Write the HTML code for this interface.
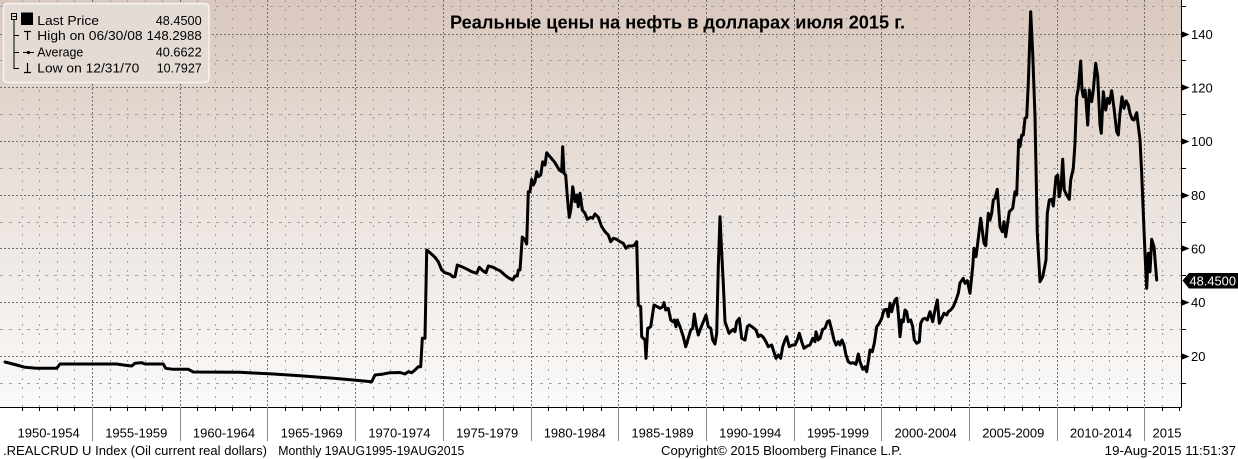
<!DOCTYPE html>
<html>
<head>
<meta charset="utf-8">
<style>
html,body{margin:0;padding:0;background:#fff;}
body{width:1238px;height:459px;overflow:hidden;}
svg{display:block;font-family:"Liberation Sans","DejaVu Sans",sans-serif;}
</style>
</head>
<body>
<svg width="1238" height="459" viewBox="0 0 1238 459" xmlns="http://www.w3.org/2000/svg">
<defs>
<linearGradient id="bg" x1="0" y1="0" x2="0" y2="1">
<stop offset="0" stop-color="#d9c8bd"/>
<stop offset="0.5" stop-color="#ebe3de"/>
<stop offset="1" stop-color="#fbfaf9"/>
</linearGradient>
</defs>
<rect x="0" y="0" width="1238" height="459" fill="#fff"/>
<rect x="0" y="0" width="1181" height="407" fill="url(#bg)"/>

<!-- minor vertical grid -->
<path fill="none" stroke="#a3a3a3" stroke-width="1" stroke-dasharray="2 7" d="M22.5 0V407M39.5 0V407M57.5 0V407M74.5 0V407M110.5 0V407M127.5 0V407M145.5 0V407M162.5 0V407M197.5 0V407M215.5 0V407M232.5 0V407M250.5 0V407M285.5 0V407M302.5 0V407M320.5 0V407M338.5 0V407M373.5 0V407M390.5 0V407M408.5 0V407M425.5 0V407M460.5 0V407M478.5 0V407M495.5 0V407M513.5 0V407M548.5 0V407M566.5 0V407M583.5 0V407M601.5 0V407M636.5 0V407M653.5 0V407M671.5 0V407M688.5 0V407M723.5 0V407M741.5 0V407M759.5 0V407M776.5 0V407M811.5 0V407M829.5 0V407M846.5 0V407M864.5 0V407M899.5 0V407M916.5 0V407M934.5 0V407M951.5 0V407M987.5 0V407M1004.5 0V407M1022.5 0V407M1039.5 0V407M1074.5 0V407M1092.5 0V407M1109.5 0V407M1127.5 0V407M1162.5 0V407"/>
<!-- minor horizontal grid -->
<path fill="none" stroke="#a3a3a3" stroke-width="1" stroke-dasharray="3 6" d="M0 6.5H1181M0 60.5H1181M0 114.5H1181M0 168.5H1181M0 222.5H1181M0 275.5H1181M0 329.5H1181M0 383.5H1181"/>
<!-- major grid -->
<path fill="none" stroke="#6f6f6f" stroke-width="1" stroke-dasharray="2 2" d="M92.5 0V407M180.5 0V407M267.5 0V407M355.5 0V407M443.5 0V407M531.5 0V407M618.5 0V407M706.5 0V407M794.5 0V407M881.5 0V407M969.5 0V407M1057.5 0V407M1144.5 0V407M0 34.5H1181M0 87.5H1181M0 141.5H1181M0 195.5H1181M0 248.5H1181M0 302.5H1181M0 356.5H1181"/>

<!-- series -->
<path fill="none" stroke="#000" stroke-width="3" stroke-linejoin="round" stroke-linecap="round" d="M5 362L16.7 365L25 367.3L36.7 368.3L56.7 368.3L60 364L116.7 364L123.3 365L131.7 366L135 363.3L141.7 362.7L145 364L163.3 364L165.7 368.3L173.3 369.3L188.3 369.3L193.3 372L240 372.3L273.3 374L300 375.7L333.3 378.3L353.3 380L371.7 381.7L375 375L381.7 374.3L390 372.7L400 372.5L405 374L408.3 371.7L411.7 372.7L415 370L418.3 366.7L420.7 366.7L422.3 338.3L425 338.3L426.7 250L430 252.7L435 257.3L438.3 261.7L441.7 270L445 272.7L450 274.3L452.7 276.7L455 276.7L457.3 265L461.7 266.7L467.3 269.3L471.7 271.7L476.7 273.3L479.3 267.3L482.7 270.7L486 272.7L488.3 266L493.3 267.3L496.7 269.3L500 270.7L504 274.3L508.3 277.7L512.7 280L515 276L517.3 276L518.3 270L520 270L522.3 237L525 240L526.7 244L528.3 191.7L530 191.7L531.7 179.3L533.3 185L535 181.7L536.7 171.7L538.3 176.7L540.7 175L542.7 161.7L545 165L546.7 152.7L550 156.7L555 162.7L559.3 170L561.7 171.7L562.7 146.7L564 173.3L565.7 175L567.3 196.7L569.3 217.3L571 208.3L572.7 186.7L575 201.7L576.7 195L578.3 206.7L580 193.3L582.3 210L585 213.3L587.3 219.3L590.7 217.3L592.7 218.3L595 214L598.3 217.3L601.7 226.7L605 231.7L608.3 235L610.7 241.7L613.3 238.3L616.7 239.3L620 241.7L623.3 243.3L626 248.3L628.3 246L631.7 246L634.3 245.3L636.7 241.7L638.3 305L640.7 306.7L641.7 336.7L643.3 338.3L645 340L646 358.3L647.7 328.3L650.7 326.7L654 305L657.3 306.7L660 308.3L662.7 306.7L664 302.7L665.7 310L668.3 308.3L670.7 320L672.7 321.7L674.3 320L676 326.7L677.3 320L680 326.7L683.3 336.7L685.7 346.7L688.3 338.3L690.7 330L692.7 328.3L694.3 314L696 325L698.3 335L700 330L702.7 323.3L704 320L706 315L708.3 326.7L710.7 328.3L712.7 340L715 344L716.7 333.3L718.3 266.7L720 216.7L721.7 253.3L723.3 283.3L725 321.7L727.3 328.3L729 333.3L730.7 331.7L733.3 329.3L735 331.7L736.7 321.7L739.3 318.3L741.7 338.3L745 340L747.3 326.7L749.3 325L752.7 327.3L756 330L758.3 336.7L760.7 335L763.3 337.3L766 341.7L768.3 346.7L771.7 345L773.3 350L776 358.3L778.3 355L780.7 358.3L782.7 346.7L785 340L786.7 336.7L789.3 346.7L792.7 345L795 345L797.3 340L799.3 333.3L801.7 341.7L804 348.3L807.3 346L810 345L812.7 338.3L815 341.7L816 331.7L818.3 340L820 338.3L822.7 329.3L825 328.3L827.3 321.7L829.3 320.7L831.7 330L834 340L836 345L838.3 341.7L840 345L842 340L844 345L846 355L848.3 361.7L850.7 363.3L853.3 362.7L856 364.3L858.3 354L860 361.7L862.7 369.3L865 366.7L866.7 371.7L868.3 361.7L870 350L872.3 351.7L874.3 343.3L876.7 326.7L879.3 323.3L881.7 318.3L884 310L886.7 309.3L888.3 316.7L890 303.3L891.7 311.7L893.3 305L895 300L896.7 298.3L898.3 313.3L900 336.7L901.7 320L903.3 321.7L905 310L906.7 311.7L908.3 321.7L910.7 320L912.7 326.7L914.3 340L916.7 343.3L919.3 341.7L920.7 323.3L922.7 319.3L925 318.3L927.3 320L930 311.7L932.7 321.7L935 310L937.3 300L939.3 323.3L941.7 318.3L944 313.3L946.7 315L948.3 311.7L950.7 310L953.3 306.7L956 300L958.3 293.3L960 283L963.3 278.3L965 283.3L967.3 280.7L970 293.3L972.7 266.7L974 248.3L976 256.7L977.3 246.7L980.7 218.3L984 243.3L985.7 245.7L988.3 213.3L990 220L991.7 213.3L993.3 200L995 198.3L997.3 189.3L1000 226.7L1002.3 231.7L1004 221.7L1005.7 236.7L1009.3 211.7L1012.7 208.3L1015 191.7L1016.7 195L1018.7 140L1020 146.7L1021.7 135L1023.3 135L1025 118.3L1026.7 117.3L1028.3 83.3L1030.7 11.7L1032.7 53.3L1035 116.7L1037.3 233.3L1040 281.7L1042.7 276.7L1046 260L1047.3 213.3L1049.3 200L1051.7 199.3L1053.3 206L1056 176.7L1057.7 175L1059.3 196.7L1061 186.7L1062.7 159.3L1064.3 190L1066.7 195L1069.3 199.3L1070.7 180L1073.3 168.3L1075 143.3L1076.7 96.7L1078.3 88.3L1080.7 61L1082 90L1083.3 96.7L1085 90L1086 100L1087.7 125L1089.3 90L1091.7 101.7L1093.3 90L1095.7 63.3L1097.7 76.7L1100 125L1101.3 133.3L1103.3 91.7L1105.7 110L1107.7 98.3L1109.3 103.3L1111.7 90.7L1114 108.3L1116.7 131.7L1118.3 135L1120 113.3L1122 96.7L1124 108.3L1126 101L1128.3 105L1130 113.3L1132.3 119.3L1134 120L1136.7 112.7L1140 140L1141.7 173.3L1143.3 213.3L1145 253.3L1146.7 288.3L1148.3 253.3L1150 271.7L1151.7 239.3L1154 246.7L1156.7 280"/>

<!-- legend -->
<rect x="3.5" y="3.5" width="205.5" height="79" rx="4" ry="4" fill="#e4dbd5" stroke="#f7f3f1" stroke-width="1.5"/>
<rect x="11.5" y="13.5" width="5" height="6" fill="none" stroke="#000" stroke-width="1"/>
<path d="M12.5 16.5H16" stroke="#000" stroke-width="1"/>
<path d="M14 20V68.5H19M14 35.5H19M14 52.5H19" fill="none" stroke="#000" stroke-width="1"/>
<rect x="21" y="12.5" width="12" height="12.5" fill="#000"/>
<path d="M24 31.5H31M27.5 31.5V40" fill="none" stroke="#000" stroke-width="1.2"/>
<path d="M23 52.5H34" stroke="#000" stroke-width="1"/>
<circle cx="28.5" cy="52.5" r="1.6" fill="#000"/>
<path d="M27.5 63V72.5M24 72.5H31" fill="none" stroke="#000" stroke-width="1.2"/>
<g font-size="13" fill="#000">
<text x="37.3" y="25" textLength="61.7" lengthAdjust="spacingAndGlyphs">Last Price</text>
<text x="37.3" y="40" textLength="105.3" lengthAdjust="spacingAndGlyphs">High on 06/30/08</text>
<text x="37.3" y="56.7" textLength="46" lengthAdjust="spacingAndGlyphs">Average</text>
<text x="37.3" y="72.7" textLength="102" lengthAdjust="spacingAndGlyphs">Low on 12/31/70</text>
<text x="155.7" y="25" textLength="46" lengthAdjust="spacingAndGlyphs">48.4500</text>
<text x="146.7" y="40" textLength="55" lengthAdjust="spacingAndGlyphs">148.2988</text>
<text x="155.7" y="56.7" textLength="46" lengthAdjust="spacingAndGlyphs">40.6622</text>
<text x="156.7" y="72.7" textLength="45" lengthAdjust="spacingAndGlyphs">10.7927</text>
</g>

<!-- title -->
<text x="450" y="28.5" font-size="18" font-weight="bold" fill="#000" textLength="455" lengthAdjust="spacingAndGlyphs">Реальные цены на нефть в долларах июля 2015 г.</text>

<!-- axes -->
<path d="M1181.5 0V407.5M0 407.5H1181.5" fill="none" stroke="#000" stroke-width="1"/>
<!-- year ticks -->
<path fill="none" stroke="#000" stroke-width="1" d="M22.5 407V411M39.5 407V411M57.5 407V411M74.5 407V411M110.5 407V411M127.5 407V411M145.5 407V411M162.5 407V411M197.5 407V411M215.5 407V411M232.5 407V411M250.5 407V411M285.5 407V411M302.5 407V411M320.5 407V411M338.5 407V411M373.5 407V411M390.5 407V411M408.5 407V411M425.5 407V411M460.5 407V411M478.5 407V411M495.5 407V411M513.5 407V411M548.5 407V411M566.5 407V411M583.5 407V411M601.5 407V411M636.5 407V411M653.5 407V411M671.5 407V411M688.5 407V411M723.5 407V411M741.5 407V411M759.5 407V411M776.5 407V411M811.5 407V411M829.5 407V411M846.5 407V411M864.5 407V411M899.5 407V411M916.5 407V411M934.5 407V411M951.5 407V411M987.5 407V411M1004.5 407V411M1022.5 407V411M1039.5 407V411M1074.5 407V411M1092.5 407V411M1109.5 407V411M1127.5 407V411M1162.5 407V411M1179.5 407V411"/>
<!-- separators -->
<path fill="none" stroke="#888" stroke-width="1" d="M92.5 407V441M180.5 407V441M267.5 407V441M355.5 407V441M443.5 407V441M531.5 407V441M618.5 407V441M706.5 407V441M794.5 407V441M881.5 407V441M969.5 407V441M1057.5 407V441M1144.5 407V441"/>

<g font-size="13" fill="#000" text-anchor="middle">
<text x="48.6" y="437.7">1950-1954</text>
<text x="136.3" y="437.7">1955-1959</text>
<text x="224" y="437.7">1960-1964</text>
<text x="311.7" y="437.7">1965-1969</text>
<text x="399.4" y="437.7">1970-1974</text>
<text x="487.1" y="437.7">1975-1979</text>
<text x="574.8" y="437.7">1980-1984</text>
<text x="662.5" y="437.7">1985-1989</text>
<text x="750.2" y="437.7">1990-1994</text>
<text x="837.9" y="437.7">1995-1999</text>
<text x="925.6" y="437.7">2000-2004</text>
<text x="1013.3" y="437.7">2005-2009</text>
<text x="1101" y="437.7">2010-2014</text>
<text x="1167" y="437.7">2015</text>
</g>

<!-- right axis ticks -->
<path fill="none" stroke="#000" stroke-width="1" d="M1181 6.5H1186M1181 60.5H1186M1181 114.5H1186M1181 168.5H1186M1181 222.5H1186M1181 275.5H1186M1181 329.5H1186M1181 383.5H1186"/>
<g fill="#000">
<path d="M1181 31L1189.5 34.5L1181 38Z"/>
<path d="M1181 84L1189.5 87.5L1181 91Z"/>
<path d="M1181 138L1189.5 141.5L1181 145Z"/>
<path d="M1181 192L1189.5 195.5L1181 199Z"/>
<path d="M1181 245L1189.5 248.5L1181 252Z"/>
<path d="M1181 299L1189.5 302.5L1181 306Z"/>
<path d="M1181 353L1189.5 356.5L1181 360Z"/>
</g>
<g font-size="13" fill="#000">
<text x="1191" y="39">140</text>
<text x="1191" y="92.3">120</text>
<text x="1191" y="146">100</text>
<text x="1191" y="199.8">80</text>
<text x="1191" y="253.5">60</text>
<text x="1191" y="307.2">40</text>
<text x="1191" y="360.9">20</text>
</g>

<!-- last price tag -->
<path d="M1182.5 280.5L1189 273H1238V288.5H1189Z" fill="#000"/>
<text x="1189.5" y="285.5" font-size="13" fill="#fff" textLength="46.5" lengthAdjust="spacingAndGlyphs">48.4500</text>

<!-- footer -->
<g font-size="13" fill="#000">
<text x="3" y="455" textLength="264" lengthAdjust="spacingAndGlyphs">.REALCRUD U Index (Oil current real dollars)</text>
<text x="278.3" y="455" textLength="186" lengthAdjust="spacingAndGlyphs">Monthly 19AUG1995-19AUG2015</text>
<text x="661" y="455" textLength="241" lengthAdjust="spacingAndGlyphs">Copyright© 2015 Bloomberg Finance L.P.</text>
<text x="1104.7" y="455" textLength="131.3" lengthAdjust="spacingAndGlyphs">19-Aug-2015 11:51:37</text>
</g>
</svg>
</body>
</html>
